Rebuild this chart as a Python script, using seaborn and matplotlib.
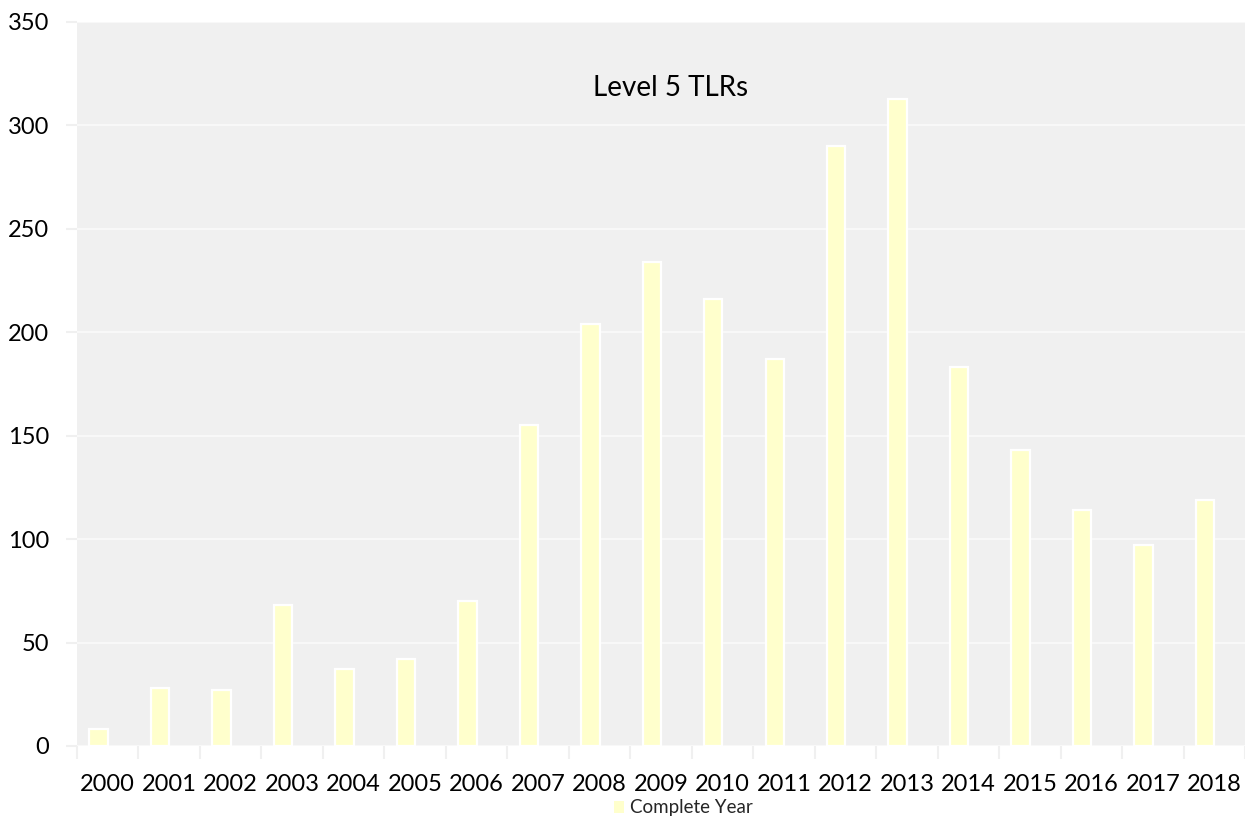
import matplotlib
matplotlib.use('Agg')
import matplotlib.pyplot as plt
import seaborn as sns
import pandas as pd
import numpy as np
from matplotlib.patches import Patch
from matplotlib.ticker import FixedLocator

# ---- data ----
years = ['2000', '2001', '2002', '2003', '2004', '2005', '2006', '2007', '2008', '2009',
         '2010', '2011', '2012', '2013', '2014', '2015', '2016', '2017', '2018']
complete_year = [8, 28, 27, 68, 37, 42, 70, 155, 204, 234, 216, 187, 290, 313, 183, 143, 114, 97, 119]
partial_year = [np.nan] * len(years)
series_names = ['Complete Year', 'Partial Year']
chart_title = 'Level 5 TLRs'
y_ticks = [0, 50, 100, 150, 200, 250, 300, 350]

df = pd.DataFrame({
    'year': years + years,
    'value': complete_year + partial_year,
    'series': [series_names[0]] * len(years) + [series_names[1]] * len(years),
})

sns.set_theme(style='white')
plt.rcParams['font.family'] = ['Lato', 'DejaVu Sans']

W, H = 1245, 817
fig = plt.figure(figsize=(W / 100, H / 100), dpi=100)
ax = fig.add_axes([77 / W, 1 - 746 / H, 1 - 77 / W, (746 - 22) / H])
ax.set_facecolor('#F0F0F0')

bar_color = '#FFFFCC'
sns.barplot(data=df, x='year', y='value', hue='series', hue_order=series_names,
            order=years, palette=[bar_color, bar_color], saturation=1, width=0.6,
            edgecolor='white', linewidth=1.6, errorbar=None, legend=False, ax=ax)

ax.set_xlim(-0.5, len(years) - 0.5)
ax.set_ylim(0, 350)
ax.set_yticks(y_ticks)
ax.set_yticklabels([str(t) for t in y_ticks])
ax.set_xlabel('')
ax.set_ylabel('')
for s in ax.spines.values():
    s.set_visible(False)

ax.set_axisbelow(True)
ax.yaxis.grid(True, color='#F8F8F8', linewidth=1.5)
ax.xaxis.grid(False)

ax.tick_params(axis='y', length=8, width=1.5, color='#F0F0F0', pad=12, labelsize=17,
               labelcolor='black', left=True)
ax.xaxis.set_minor_locator(FixedLocator(np.arange(-0.5, len(years), 1.0)))
ax.tick_params(axis='x', which='minor', length=9, width=1.5, color='#F0F0F0', bottom=True)
ax.tick_params(axis='x', which='major', length=0, pad=20.5, labelsize=17, labelcolor='black')

fig.text(671 / W, 1 - 88 / H, chart_title, ha='center', va='center', fontsize=20, color='black')

fig.legend(handles=[Patch(facecolor=bar_color, edgecolor='none', label=series_names[0])],
           loc='center', bbox_to_anchor=(683 / W, 1 - 808 / H), frameon=False,
           handlelength=0.55, handleheight=0.55, handletextpad=0.3, fontsize=13.5,
           borderpad=0, borderaxespad=0)

fig.savefig('out.png', dpi=100)
